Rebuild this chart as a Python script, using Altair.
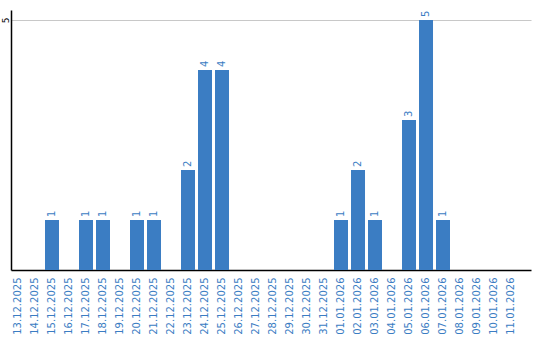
import altair as alt
import pandas as pd

dates = ["13.12.2025", "14.12.2025", "15.12.2025", "16.12.2025", "17.12.2025",
         "18.12.2025", "19.12.2025", "20.12.2025", "21.12.2025", "22.12.2025",
         "23.12.2025", "24.12.2025", "25.12.2025", "26.12.2025", "27.12.2025",
         "28.12.2025", "29.12.2025", "30.12.2025", "31.12.2025", "01.01.2026",
         "02.01.2026", "03.01.2026", "04.01.2026", "05.01.2026", "06.01.2026",
         "07.01.2026", "08.01.2026", "09.01.2026", "10.01.2026", "11.01.2026"]
counts = [0, 0, 1, 0, 1, 1, 0, 1, 1, 0, 2, 4, 4, 0, 0, 0, 0, 0, 0, 1,
          2, 1, 0, 3, 5, 1, 0, 0, 0, 0]

df = pd.DataFrame({"date": dates, "count": counts})
BLUE = "#3b7dc3"
FONT = "DejaVu Sans"

x = alt.X("date:N", sort=dates, title=None,
          scale=alt.Scale(paddingInner=3/17, paddingOuter=0.382, align=0),
          axis=alt.Axis(labelAngle=270, labelColor=BLUE, labelFont=FONT, labelFontSize=10,
                        ticks=False, labelPadding=7, domainColor="#000", domainWidth=1.5,
                        labelOverlap=False))
y = alt.Y("count:Q", title=None,
          scale=alt.Scale(domain=[0, 5.2], nice=False),
          axis=alt.Axis(values=[5], labelAngle=270, ticks=False, labelPadding=1,
                        labelFont=FONT, labelFontSize=9, labelColor="#000",
                        domainColor="#000", domainWidth=1.5, gridColor="#c8c8c8",
                        gridWidth=1.2))

bars = alt.Chart(df).mark_bar(color=BLUE).encode(x=x, y=y)
labels = alt.Chart(df).transform_filter("datum.count > 0").mark_text(
    angle=270, align="left", baseline="middle", dx=3, color=BLUE, font=FONT, fontSize=10
).encode(x=alt.X("date:N", sort=dates), y="count:Q", text="count:Q")

chart = (bars + labels).properties(
    width=520, height=260,
    autosize=alt.AutoSizeParams(type="none"),
    padding={"left": 11, "top": 10, "right": 9, "bottom": 70},
).configure_view(stroke=None)

chart.save("out.html", embed_options={"renderer": "svg", "actions": False})
